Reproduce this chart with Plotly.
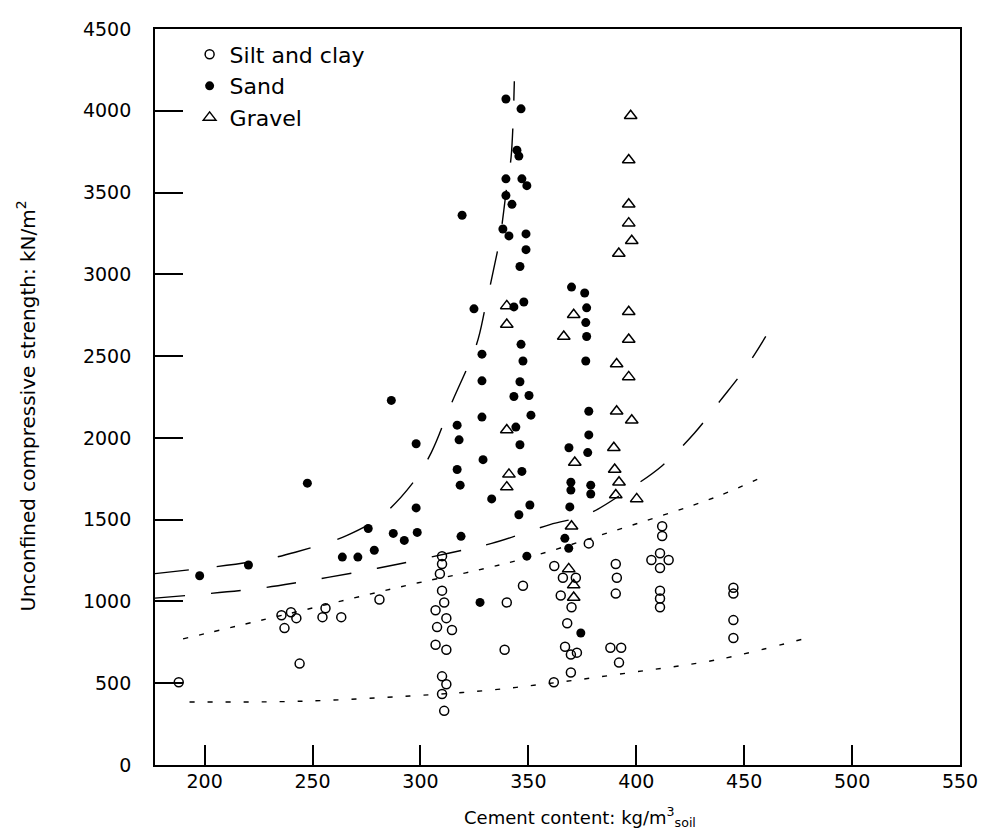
import plotly.graph_objects as go

# ---------------- data ----------------
silt_x = [188, 235.6, 240, 242.5, 237, 244, 254.6, 256, 263.3, 281,
          310, 310, 309, 310, 311, 307, 312, 307.7, 314.6, 307, 312, 310, 312, 310, 311,
          339, 340, 347.5, 361.8, 362, 366, 372, 365, 370, 368, 367, 372.5, 369.7, 369.7,
          378, 390.5, 391, 390.5, 388, 393, 392,
          407, 415, 411, 411, 412, 412, 411, 411, 411,
          445, 445, 445, 445]
silt_y = [506, 916, 934, 898, 837, 620, 904, 958, 904, 1012,
          1277, 1229, 1169, 1066, 994, 946, 898, 843, 825, 735, 705, 542, 494, 434, 331,
          705, 994, 1096, 506, 1217, 1145, 1145, 1036, 964, 867, 723, 687, 675, 566,
          1355, 1229, 1145, 1048, 717, 717, 626,
          1253, 1253, 1295, 1205, 1460, 1400, 1066, 1018, 964,
          1084, 1048, 886, 777]

sand_x = [197.7, 220.3, 247.6, 263.8, 271, 275.8, 278.6, 286.5, 287.4, 292.5,
          298, 298, 298.5, 317, 317.9, 317, 318.4, 318.8, 319.3, 324.8,
          327.6, 328.5, 328.5, 328.5, 329, 333, 338.2, 339.6, 339.6, 339.6,
          341, 342.4, 343.3, 343.3, 344.2, 344.7, 345.6, 345.6, 346.1, 346.1,
          346.1, 346.6, 346.6, 347, 347, 347.5, 347.9, 348.9, 348.9, 349.3,
          349.3, 350.3, 350.7, 351.2, 366.9, 368.7, 368.8, 369.2, 369.7, 369.7,
          370, 374.3, 376.1, 376.6, 376.6, 377, 377, 377.5, 378, 378,
          378.9, 378.9]
sand_y = [1157, 1223, 1723, 1271, 1271, 1446, 1313, 2229, 1416, 1373,
          1964, 1572, 1422, 2078, 1988, 1807, 1711, 1398, 3361, 2789,
          994, 2512, 2349, 2127, 1867, 1627, 3277, 4072, 3584, 3482,
          3235, 3428, 2801, 2253, 2066, 3759, 3723, 1530, 3048, 2343,
          1958, 4012, 2572, 3584, 1795, 2470, 2831, 3247, 3151, 3542,
          1277, 2259, 1590, 2139, 1386, 1325, 1940, 1578, 1729, 1681,
          2922, 807, 2886, 2705, 2470, 2795, 2620, 1910, 2163, 2018,
          1711, 1657]

gravel_x = [340, 340, 340, 341, 340, 366.4, 368.7, 370, 371, 371, 371, 371.5,
            389.6, 390, 390.5, 390.9, 390.9, 391.9, 392, 396.5, 396.5, 396.5,
            396.5, 396.5, 396.5, 397.4, 397.9, 397.9, 400.2]
gravel_y = [2807, 2693, 2048, 1777, 1699, 2620, 1199, 1460, 1100, 1024, 2753, 1850,
            1940, 1807, 1651, 2452, 2163, 3127, 1729, 3699, 3428, 3313,
            2771, 2602, 2373, 3970, 3205, 2108, 1627]

# trend curves
curve_a_x = [177, 224, 242, 266, 282, 296, 305, 314, 326, 330, 334, 337, 340, 342, 343.5]
curve_a_y = [1170, 1247, 1301, 1404, 1524, 1717, 1910, 2200, 2572, 2795, 3036, 3235, 3536, 3717, 4180]
curve_b_x = [177, 224, 245, 269, 290, 313, 333, 360, 377, 396, 412, 427, 439, 451, 460]
curve_b_y = [1020, 1078, 1120, 1175, 1229, 1295, 1355, 1470, 1530, 1680, 1830, 2030, 2229, 2434, 2620]
curve_c_x = [190, 238, 299, 321, 349, 386, 437, 460]
curve_c_y = [771, 922, 1114, 1175, 1265, 1416, 1639, 1771]
curve_d_x = [193, 245, 295, 330, 364, 400, 438, 480]
curve_d_y = [385, 390, 422, 455, 506, 570, 645, 780]

x_ticks = [200, 250, 300, 350, 400, 450, 500, 550]
y_ticks = [0, 500, 1000, 1500, 2000, 2500, 3000, 3500, 4000, 4500]

FONT = "DejaVu Sans"

fig = go.Figure()

for cx, cy, dash in [(curve_a_x, curve_a_y, "34px,28px"),
                     (curve_b_x, curve_b_y, "30px,26px"),
                     (curve_c_x, curve_c_y, "5px,11px"),
                     (curve_d_x, curve_d_y, "5px,13px")]:
    fig.add_trace(go.Scatter(x=cx, y=cy, mode="lines", showlegend=False,
                             line=dict(color="black", width=1.4, dash=dash, shape="spline"),
                             hoverinfo="skip"))

fig.add_trace(go.Scatter(x=silt_x, y=silt_y, mode="markers", name="Silt and clay",
                         marker=dict(symbol="circle-open", size=9, color="black",
                                     line=dict(width=1.5, color="black"))))
fig.add_trace(go.Scatter(x=sand_x, y=sand_y, mode="markers", name="Sand",
                         marker=dict(symbol="circle", size=9, color="black")))
fig.add_trace(go.Scatter(x=gravel_x, y=gravel_y, mode="markers", name="Gravel",
                         marker=dict(symbol="triangle-up-open", size=11, color="black",
                                     line=dict(width=1.5, color="black"))))

# page body adds an 8px margin, so the figure is 8px smaller than the window
fig.update_layout(
    width=980, height=826,
    margin=dict(l=147, r=26, t=10, b=69),
    paper_bgcolor="white", plot_bgcolor="white",
    font=dict(family=FONT, color="black", size=18),
    showlegend=True,
    legend=dict(x=0.043, y=0.994, xanchor="left", yanchor="top",
                bgcolor="rgba(0,0,0,0)", font=dict(family=FONT, size=22, color="black"),
                itemwidth=30),
    xaxis=dict(range=[177, 550], tickvals=x_ticks, ticks="inside", ticklen=20,
               tickwidth=1.5, tickcolor="black", showline=True, mirror=True,
               linecolor="black", linewidth=1.8, showgrid=False, zeroline=False,
               tickfont=dict(family=FONT, size=19, color="black"), ticklabelstandoff=-2),
    yaxis=dict(range=[0, 4500], tickvals=y_ticks, ticks="inside", ticklen=28,
               tickwidth=1.5, tickcolor="black", showline=True, mirror=True,
               linecolor="black", linewidth=1.8, showgrid=False, zeroline=False,
               tickfont=dict(family=FONT, size=19, color="black"), ticklabelstandoff=18),
    annotations=[
        dict(text="Unconfined compressive strength: kN/m<sup>2</sup>", xref="paper", yref="paper",
             x=0, y=0.487, xshift=-129, textangle=-90, showarrow=False,
             xanchor="center", yanchor="middle", font=dict(family=FONT, size=20, color="black")),
        dict(text="Cement content: kg/m<sup>3</sup><sub>soil</sub>", xref="x", yref="paper",
             x=374, y=0, yshift=-52, showarrow=False, xanchor="center", yanchor="middle",
             font=dict(family=FONT, size=18, color="black")),
    ],
)

fig.write_html("out.html")
